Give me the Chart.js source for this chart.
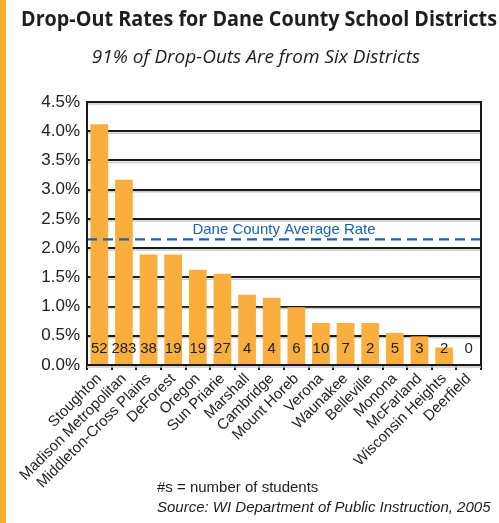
<!DOCTYPE html>
<html>
<head>
<meta charset="utf-8">
<script src="https://cdn.jsdelivr.net/npm/chart.js@4/dist/chart.umd.min.js"></script>
<style>
  body { margin: 0; background: #fff; }
  #wrap { width: 499px; height: 523px; position: relative; }
</style>
</head>
<body>
<div id="wrap"><canvas id="chart" width="499" height="523"></canvas></div>
<script>
// districts, drop-out rate (%), number of students
const districts = ["Stoughton", "Madison Metropolitan", "Middleton-Cross Plains", "DeForest", "Oregon", "Sun Priarie",
  "Marshall", "Cambridge", "Mount Horeb", "Verona", "Waunakee", "Belleville", "Monona", "McFarland",
  "Wisconsin Heights", "Deerfield"]
const rates = [4.12, 3.17, 1.89, 1.89, 1.63, 1.56, 1.20, 1.15, 0.99, 0.72, 0.72, 0.72, 0.55, 0.49, 0.30, 0]
const students = [52, 283, 38, 19, 19, 27, 4, 4, 6, 10, 7, 2, 5, 3, 2, 0]
const avgRate = 2.15

const title = "Drop-Out Rates for Dane County School Districts"
const subtitle = "91% of Drop-Outs Are from Six Districts"
const note = "#s = number of students"
const source = "Source: WI Department of Public Instruction, 2005"

const orange = '#f9ae3e'
const blue = '#1763b5'

const extras = {
  id: 'extras',
  beforeDraw(chart) {
    let ctx = chart.ctx
    ctx.save()
    ctx.fillStyle = '#fbab2a'
    ctx.fillRect(0, 0, 6, chart.height)
    ctx.fillStyle = '#1e1e1e'
    ctx.textAlign = 'center'
    ctx.textBaseline = 'middle'
    ctx.font = 'bold 22px "Open Sans"'
    ctx.fillText(title, 259, 20, 476)
    ctx.font = 'italic 19px "Open Sans"'
    ctx.fillText(subtitle, 256, 58, 333)
    ctx.textAlign = 'left'
    ctx.font = '15px "Liberation Sans"'
    ctx.fillText(note, 157, 488)
    ctx.font = 'italic 15px "Liberation Sans"'
    ctx.fillText(source, 157, 508, 336)
    ctx.restore()
  },
  beforeDatasetsDraw(chart) {
    // grey shadow under gridlines
    let ctx = chart.ctx
    let a = chart.chartArea
    let y = chart.scales.y
    ctx.save()
    ctx.strokeStyle = '#c8c8c8'
    ctx.lineWidth = 1.5
    y.ticks.forEach(t => {
      let py = y.getPixelForValue(t.value) + 2
      ctx.beginPath()
      ctx.moveTo(a.left, py)
      ctx.lineTo(a.right, py)
      ctx.stroke()
    })
    ctx.restore()
  },
  afterDatasetsDraw(chart) {
    let ctx = chart.ctx
    let a = chart.chartArea
    let y = chart.scales.y
    let x = chart.scales.x
    ctx.save()
    // average line
    let ay = y.getPixelForValue(avgRate)
    ctx.strokeStyle = blue
    ctx.lineWidth = 2.2
    ctx.setLineDash([10, 6])
    ctx.beginPath()
    ctx.moveTo(a.left, ay)
    ctx.lineTo(a.right, ay)
    ctx.stroke()
    ctx.setLineDash([])
    ctx.fillStyle = blue
    ctx.font = '15px "Liberation Sans"'
    ctx.textAlign = 'center'
    ctx.textBaseline = 'bottom'
    ctx.fillText("Dane County Average Rate", 284, ay - 2)
    // student counts
    ctx.fillStyle = '#222'
    ctx.font = '15px "Liberation Sans"'
    ctx.textBaseline = 'middle'
    students.forEach((n, i) => {
      ctx.fillText(String(n), x.getPixelForValue(i), y.getPixelForValue(0) - 16)
    })
    // plot border
    ctx.strokeStyle = '#1a1a1a'
    ctx.lineWidth = 2
    ctx.strokeRect(a.left, a.top, a.right - a.left, a.bottom - a.top)
    ctx.restore()
  }
}

new Chart(document.getElementById('chart'), {
  type: 'bar',
  data: {
    labels: districts,
    datasets: [{
      data: rates,
      backgroundColor: orange,
      borderWidth: 0,
      barPercentage: 0.72,
      categoryPercentage: 1
    }]
  },
  options: {
    responsive: false,
    animation: false,
    layout: { padding: { top: 102, right: 18, left: 0, bottom: 0 } },
    plugins: { legend: { display: false }, tooltip: { enabled: false } },
    scales: {
      x: {
        afterFit: s => { s.height = 158 },
        grid: { display: true, drawOnChartArea: false, drawTicks: true, tickLength: 5, color: '#1a1a1a', lineWidth: 2 },
        border: { display: true, color: '#1a1a1a', width: 2 },
        ticks: {
          color: '#222', minRotation: 45, maxRotation: 45, autoSkip: false, padding: 0,
          font: { family: 'Liberation Sans', size: 15 }
        }
      },
      y: {
        min: 0, max: 4.5,
        afterFit: s => { s.width = 87 },
        grid: { color: '#1a1a1a', lineWidth: 2, drawTicks: false },
        border: { display: true, color: '#1a1a1a', width: 2 },
        ticks: {
          stepSize: 0.5, padding: 7, color: '#222',
          font: { family: 'Liberation Sans', size: 17 },
          callback: v => v.toFixed(1) + '%'
        }
      }
    }
  },
  plugins: [extras]
})
</script>
</body>
</html>
